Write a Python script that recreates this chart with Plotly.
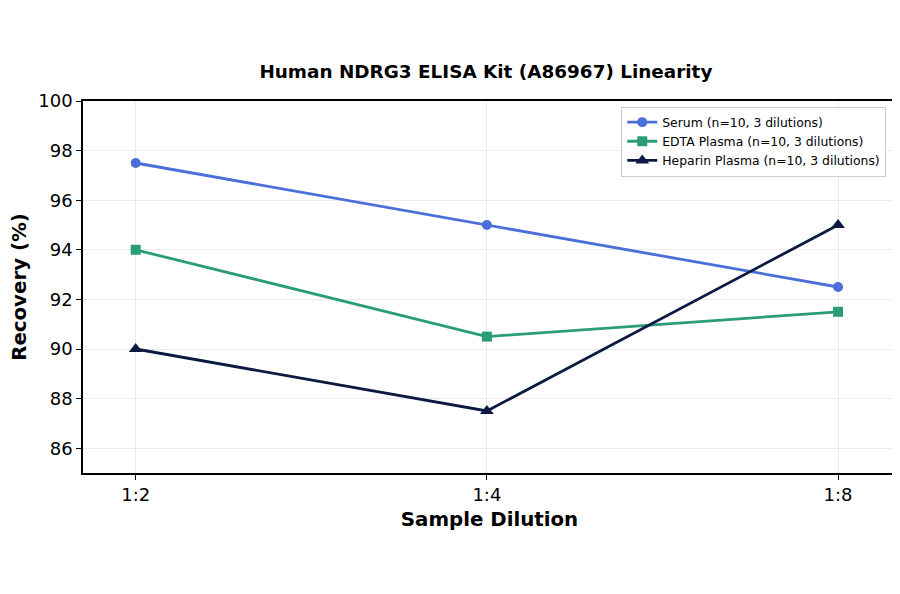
import plotly.graph_objects as go

dilutions = ["1:2", "1:4", "1:8"]
serum = [97.5, 95.0, 92.5]
edta_plasma = [94.0, 90.5, 91.5]
heparin_plasma = [90.0, 87.5, 95.0]

series = [
    ("Serum (n=10, 3 dilutions)", serum, "#4a6fd8", "circle", 10),
    ("EDTA Plasma (n=10, 3 dilutions)", edta_plasma, "#2a9d78", "square", 10),
    ("Heparin Plasma (n=10, 3 dilutions)", heparin_plasma, "#0b1a40", "triangle-up", 12),
]

fig = go.Figure()
for name, vals, color, symbol, msize in series:
    fig.add_trace(go.Scatter(
        x=[0, 1, 2], y=vals, name=name, mode="lines+markers",
        line=dict(color=color, width=2.8),
        marker=dict(symbol=symbol, size=msize, color=color),
    ))

axis_common = dict(
    showline=True, linecolor="black", linewidth=1.5, mirror=True,
    ticks="outside", ticklen=5, tickwidth=1.2, tickcolor="black",
    showgrid=True, gridcolor="#ebebeb", gridwidth=1, zeroline=False,
    tickfont=dict(size=18, color="black"), automargin=False,
)

fig.update_layout(
    width=900, height=594,
    paper_bgcolor="white", plot_bgcolor="white",
    font=dict(family="DejaVu Sans", color="black"),
    title=dict(text="<b>Human NDRG3 ELISA Kit (A86967) Linearity</b>",
               x=0.531, xanchor="center", y=0.893, yanchor="middle",
               font=dict(size=18.4)),
    margin=dict(l=75, r=12, t=93, b=129),
    xaxis=dict(axis_common, tickmode="array", tickvals=[0, 1, 2], ticktext=dilutions,
               range=[-0.15, 2.165],
               title=dict(text="<b>Sample Dilution</b>", font=dict(size=19.8), standoff=8)),
    yaxis=dict(axis_common, range=[85, 100], dtick=2, tick0=86,
               title=dict(text="<b>Recovery (%)</b>", font=dict(size=19.8), standoff=14)),
    legend=dict(x=0.988, y=0.985, xanchor="right", yanchor="top",
                bgcolor="rgba(255,255,255,0.9)", bordercolor="#cccccc", borderwidth=1,
                font=dict(size=12.4), tracegroupgap=0, itemwidth=30),
)

fig.write_html("out.html")
